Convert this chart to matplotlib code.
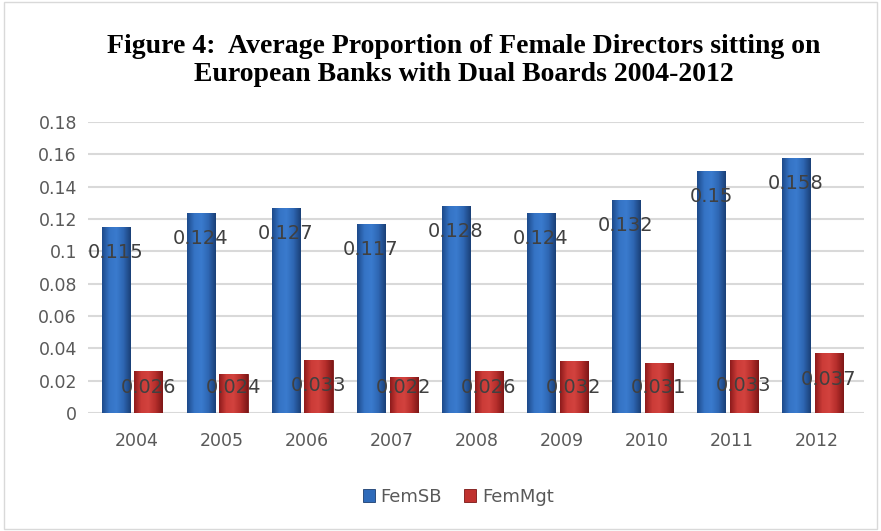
import matplotlib.pyplot as plt
import numpy as np
from matplotlib.colors import LinearSegmentedColormap
from matplotlib.patches import Rectangle

years = ['2004', '2005', '2006', '2007', '2008', '2009', '2010', '2011', '2012']
fem_sb = [0.115, 0.124, 0.127, 0.117, 0.128, 0.124, 0.132, 0.15, 0.158]
fem_mgt = [0.026, 0.024, 0.033, 0.022, 0.026, 0.032, 0.031, 0.033, 0.037]

fig = plt.figure(figsize=(8.81, 5.31), dpi=100)
ax = fig.add_axes([0.0999, 0.2222, 0.8808, 0.548])

# thin frame around the whole chart
fig.patches.append(Rectangle((0.004, 0.004), 0.992, 0.992, transform=fig.transFigure,
                             fill=False, edgecolor='#D9D9D9', linewidth=1))

x = np.arange(len(years))
w = 0.33

blue_cmap = LinearSegmentedColormap.from_list('b', ['#1D4A8A', '#3573C4', '#3A7BCE', '#2E66B2', '#1A4077'])
red_cmap = LinearSegmentedColormap.from_list('r', ['#8E1B1B', '#CC3C38', '#D2423E', '#B52E2B', '#7E1717'])

bars_sb = ax.bar(x - 0.25, fem_sb, w, color='#2F6BBA', edgecolor='#1B3E70', linewidth=0.6, zorder=3)
bars_mgt = ax.bar(x + 0.135, fem_mgt, w, color='#C0322F', edgecolor='#7A1616', linewidth=0.6, zorder=3)

grad = np.linspace(0, 1, 64).reshape(1, -1)
for bars, cmap in [(bars_sb, blue_cmap), (bars_mgt, red_cmap)]:
    for b in bars:
        x0, h, bw = b.get_x(), b.get_height(), b.get_width()
        im = ax.imshow(grad, cmap=cmap, aspect='auto', extent=[x0, x0 + bw, 0, h], zorder=3.5)
        im.set_clip_path(b)

for i, v in enumerate(fem_sb):
    ax.text(i - 0.25, max(v - 0.016, 0.0155), f'{v:g}', ha='center', va='center',
            fontsize=14, color='#404040', zorder=5)
for i, v in enumerate(fem_mgt):
    ax.text(i + 0.135, max(v - 0.016, 0.0155), f'{v:g}', ha='center', va='center',
            fontsize=14, color='#404040', zorder=5)

ax.set_xlim(-0.576, 8.55)
ax.set_ylim(0, 0.18)
ax.set_yticks(np.arange(0, 0.181, 0.02))
ax.set_yticklabels(['0', '0.02', '0.04', '0.06', '0.08', '0.1', '0.12', '0.14', '0.16', '0.18'])
ax.set_xticks(x)
ax.set_xticklabels(years)
ax.tick_params(length=0, labelsize=12.5, labelcolor='#595959')
ax.tick_params(axis='x', pad=14)
ax.tick_params(axis='y', pad=8)
ax.grid(axis='y', color='#D9D9D9', linewidth=1.5, zorder=0)
for s in ax.spines.values():
    s.set_visible(False)
ax.set_axisbelow(True)

fig.text(0.526, 0.886, 'Figure 4:  Average Proportion of Female Directors sitting on\nEuropean Banks with Dual Boards 2004-2012',
         ha='center', va='center', fontsize=20, fontweight='bold', family='Liberation Serif',
         linespacing=1.17)

leg = fig.legend([bars_sb, bars_mgt], ['FemSB', 'FemMgt'], loc='center', bbox_to_anchor=(0.52, 0.064),
                 ncol=2, frameon=False, fontsize=13, handlelength=0.7, handleheight=0.7,
                 columnspacing=1.2, handletextpad=0.3)
for t in leg.get_texts():
    t.set_color('#595959')

plt.savefig('out.png', dpi=100)
